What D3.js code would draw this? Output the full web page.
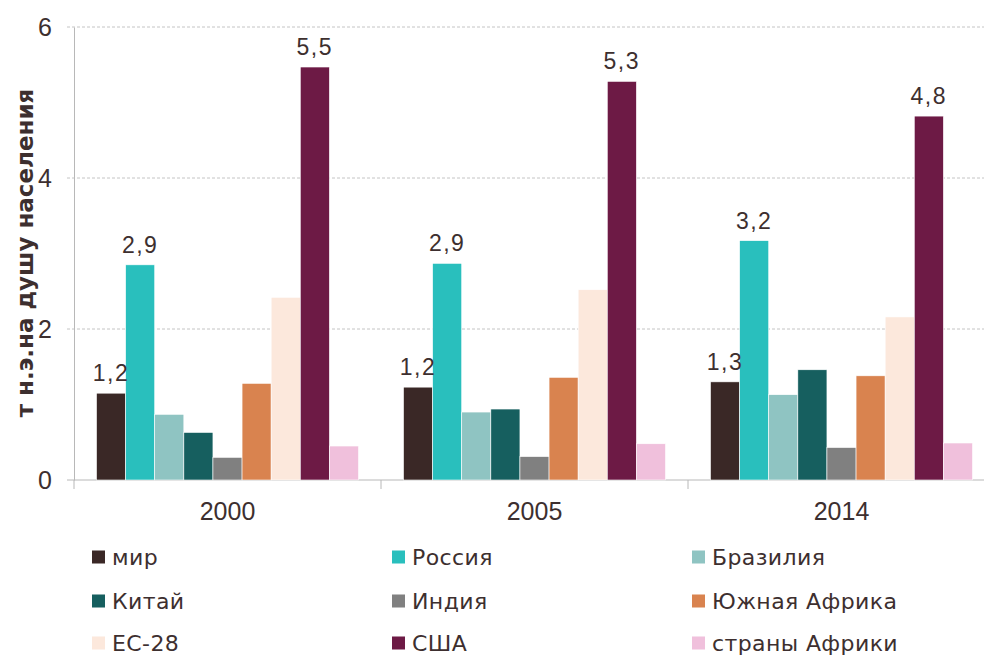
<!DOCTYPE html>
<html>
<head>
<meta charset="utf-8">
<script src="https://cdn.jsdelivr.net/npm/d3@7"></script>
<style>
  body { margin: 0; background: #fff; }
  text { fill: #3d2f2f; }
</style>
</head>
<body>
<script>
const width = 984;
const height = 657;

const years = ["2000", "2005", "2014"];
const series = ["мир", "Россия", "Бразилия", "Китай", "Индия", "Южная Африка", "ЕС-28", "США", "страны Африки"];
const colors = ["#3a2826", "#29bfbd", "#8fc4c2", "#165f5f", "#808080", "#d9834f", "#fce8dc", "#6d1a45", "#f0c0dc"];

// values per series, order of years
const mir = [1.15, 1.23, 1.30];
const russia = [2.85, 2.87, 3.17];
const brazil = [0.87, 0.90, 1.13];
const china = [0.63, 0.94, 1.46];
const india = [0.30, 0.31, 0.43];
const southAfrica = [1.28, 1.36, 1.38];
const eu28 = [2.42, 2.52, 2.16];
const usa = [5.47, 5.28, 4.82];
const africa = [0.45, 0.48, 0.49];

// labels shown only for some bars
const labelled = ["мир", "Россия", "США"];
const labelText = {
  "мир": ["1,2", "1,2", "1,3"],
  "Россия": ["2,9", "2,9", "3,2"],
  "США": ["5,5", "5,3", "4,8"]
};

const yTicks = [0, 2, 4, 6];

const allValues = [mir, russia, brazil, china, india, southAfrica, eu28, usa, africa];

const data = [];
years.forEach(function (yr, i) {
  series.forEach(function (s, j) {
    data.push({ year: yr, name: s, value: allValues[j][i], color: colors[j] });
  });
});

const NUM_FONT = "'Liberation Sans', Arial, sans-serif";
const TXT_FONT = "'DejaVu Sans', sans-serif";

const margin = { left: 74, right: -11, top: 27, bottom: 177 };

const svg = d3.select("body")
  .append("svg")
  .attr("width", width)
  .attr("height", height);

const x0 = d3.scaleBand()
  .domain(years)
  .range([margin.left, width - margin.right]);

const x1 = d3.scaleBand()
  .domain(series)
  .range([22.5, x0.bandwidth() - 22.5]);

const y = d3.scaleLinear()
  .domain([0, 6])
  .range([height - margin.bottom, margin.top]);

// grid lines
svg.append("g")
  .selectAll("line")
  .data(yTicks.filter(function (d) { return d > 0; }))
  .enter()
  .append("line")
  .attr("x1", margin.left - 7)
  .attr("x2", width)
  .attr("y1", function (d) { return y(d); })
  .attr("y2", function (d) { return y(d); })
  .attr("stroke", "#c4c4c4")
  .attr("stroke-width", 1)
  .attr("stroke-dasharray", "3,2");

// y axis
const yAxis = svg.append("g")
  .attr("transform", "translate(" + margin.left + ",0)")
  .call(d3.axisLeft(y).tickValues(yTicks).tickFormat(d3.format("d"))
    .tickSize(0).tickSizeOuter(0).tickPadding(22));
yAxis.select(".domain").attr("stroke", "#b8b8b8");
yAxis.selectAll(".tick text")
  .attr("font-size", "25px")
  .attr("fill", "#3d2f2f")
  .style("font-family", NUM_FONT);

// x axis
const xAxis = svg.append("g")
  .attr("transform", "translate(0," + y(0) + ")")
  .call(d3.axisBottom(x0).tickSize(0).tickPadding(22));
xAxis.select(".domain").attr("stroke", "#b8b8b8").attr("d", "M" + (margin.left - 7) + ",0H" + width);
xAxis.selectAll(".tick text")
  .attr("font-size", "25px")
  .attr("fill", "#3d2f2f")
  .style("font-family", NUM_FONT);

// separators between groups
svg.append("g")
  .selectAll("line")
  .data(years)
  .enter()
  .append("line")
  .attr("x1", function (d) { return x0(d); })
  .attr("x2", function (d) { return x0(d); })
  .attr("y1", y(0))
  .attr("y2", y(0) + 9)
  .attr("stroke", "#b8b8b8");

// bars
svg.append("g")
  .selectAll("rect")
  .data(data)
  .enter()
  .append("rect")
  .attr("x", function (d) { return x0(d.year) + x1(d.name); })
  .attr("y", function (d) { return y(d.value); })
  .attr("width", x1.bandwidth())
  .attr("height", function (d) { return y(0) - y(d.value); })
  .attr("fill", function (d) { return d.color; })
  .attr("stroke", "#ffffff")
  .attr("stroke-width", 0.6);

// value labels
svg.append("g")
  .selectAll("text")
  .data(data.filter(function (d) { return labelled.indexOf(d.name) !== -1; }))
  .enter()
  .append("text")
  .attr("x", function (d) { return x0(d.year) + x1(d.name) + x1.bandwidth() / 2; })
  .attr("y", function (d) { return y(d.value) - 12; })
  .attr("text-anchor", "middle")
  .attr("font-size", "23px")
  .attr("letter-spacing", "1.5px")
  .style("font-family", NUM_FONT)
  .text(function (d) { return labelText[d.name][years.indexOf(d.year)]; });

// y axis title
svg.append("text")
  .attr("transform", "translate(33,253) rotate(-90)")
  .attr("text-anchor", "middle")
  .attr("font-size", "23px")
  .attr("font-weight", "bold")
  .attr("fill", "#4a3a3a")
  .style("font-family", TXT_FONT)
  .text("т н.э.на душу населения");

// legend
const legend = svg.append("g")
  .selectAll("g")
  .data(series)
  .enter()
  .append("g")
  .attr("transform", function (d, i) {
    return "translate(" + (92 + (i % 3) * 300) + "," + [557, 601, 643][Math.floor(i / 3)] + ")";
  });

legend.append("rect")
  .attr("x", 0)
  .attr("y", -6.5)
  .attr("width", 13)
  .attr("height", 13)
  .attr("fill", function (d, i) { return colors[i]; });

legend.append("text")
  .attr("x", 20)
  .attr("y", 0)
  .attr("dy", "0.36em")
  .attr("font-size", "22px")
  .attr("letter-spacing", "0.4px")
  .attr("fill", "#4a3a3a")
  .style("font-family", TXT_FONT)
  .text(function (d) { return d; });
</script>
</body>
</html>
